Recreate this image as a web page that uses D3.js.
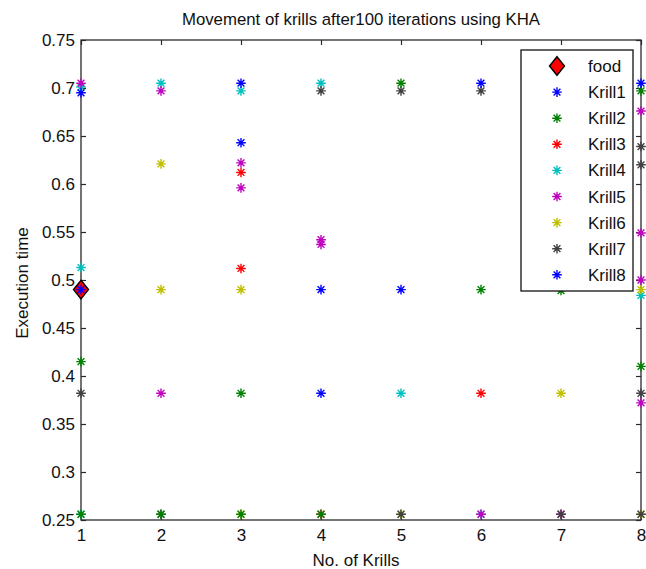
<!DOCTYPE html>
<html>
<head>
<meta charset="utf-8">
<script src="https://cdn.jsdelivr.net/npm/d3@7/dist/d3.min.js"></script>
<style>
  html, body { margin: 0; padding: 0; background: #fff; }
  svg { display: block; font-family: "Liberation Sans", Arial, sans-serif; }
</style>
</head>
<body>
<svg id="chart" width="646" height="569"></svg>
<script>
// Krill positions after 100 iterations: [No. of Krills, Execution time]
const food   = [[1, 0.490]];
const krill1 = [[1, 0.695], [3, 0.705], [4, 0.490], [6, 0.705], [8, 0.705]];
const krill2 = [[1, 0.415], [1, 0.256], [2, 0.256], [3, 0.382], [3, 0.256], [4, 0.256],
                [5, 0.705], [6, 0.490], [7, 0.489], [8, 0.697], [8, 0.410]];
const krill3 = [[3, 0.612], [3, 0.512], [4, 0.256], [6, 0.382]];
const krill4 = [[1, 0.701], [1, 0.513], [1, 0.256], [2, 0.705], [3, 0.697], [4, 0.705],
                [5, 0.382], [6, 0.256], [8, 0.484]];
const krill5 = [[1, 0.705], [2, 0.697], [2, 0.382], [3, 0.622], [3, 0.596], [4, 0.542],
                [4, 0.537], [6, 0.256], [7, 0.256], [8, 0.676], [8, 0.549], [8, 0.500], [8, 0.372]];
const krill6 = [[2, 0.621], [2, 0.490], [3, 0.490], [3, 0.256], [5, 0.256], [7, 0.382],
                [8, 0.490], [8, 0.256]];
const krill7 = [[1, 0.382], [2, 0.256], [4, 0.697], [5, 0.697], [5, 0.256], [6, 0.697],
                [7, 0.256], [8, 0.639], [8, 0.620], [8, 0.382], [8, 0.256]];
const krill8 = [[1, 0.490], [3, 0.643], [4, 0.382], [5, 0.490]];

const seriesNames = ["food", "Krill1", "Krill2", "Krill3", "Krill4", "Krill5", "Krill6", "Krill7", "Krill8"];
const xTicks = [1, 2, 3, 4, 5, 6, 7, 8];
const yTicks = [0.25, 0.3, 0.35, 0.4, 0.45, 0.5, 0.55, 0.6, 0.65, 0.7, 0.75];

const seriesData = {
  food, Krill1: krill1, Krill2: krill2, Krill3: krill3, Krill4: krill4,
  Krill5: krill5, Krill6: krill6, Krill7: krill7, Krill8: krill8
};
const colors = {
  food: "#ff0000", Krill1: "#0000ff", Krill2: "#008000", Krill3: "#ff0000",
  Krill4: "#00bfbf", Krill5: "#bf00bf", Krill6: "#bfbf00", Krill7: "#404040", Krill8: "#0000ff"
};
// stacking order of the markers on the plot
const drawOrder = ["food", "Krill4", "Krill3", "Krill6", "Krill5", "Krill7", "Krill2", "Krill1", "Krill8"];

const svg = d3.select("#chart");
const plot = { left: 81, right: 641, top: 40, bottom: 520 };
const x = d3.scaleLinear().domain([1, 8]).range([plot.left, plot.right]);
const y = d3.scaleLinear().domain([0.25, 0.75]).range([plot.bottom, plot.top]);

const axisColor = "#2a2a2a";
const fontSize = 17;

// asterisk marker path (plus plus cross)
function starPath(a, d) {
  return `M${-a},0L${a},0M0,${-a}L0,${a}M${-d},${-d}L${d},${d}M${-d},${d}L${d},${-d}`;
}
function diamondPath(w, h) {
  return `M0,${-h}L${w},0L0,${h}L${-w},0Z`;
}
function drawMarker(g, name) {
  if (name === "food") {
    g.append("path").attr("d", diamondPath(7.5, 9.3))
      .attr("fill", colors.food).attr("stroke", "#000").attr("stroke-width", 1.4);
  } else {
    g.append("path").attr("d", starPath(4.8, 3.4))
      .attr("fill", "none").attr("stroke", colors[name]).attr("stroke-width", 1.4);
  }
}

// Axes (ticks pointing inward on all four sides)
const fmtY = d => (d === 0.75 || d === 0.25 || d === 0.65 || d === 0.55 || d === 0.45 || d === 0.35) ? d3.format(".2f")(d) : d3.format(".1f")(d);

const gx = svg.append("g").attr("transform", `translate(0,${plot.bottom})`)
  .call(d3.axisBottom(x).tickValues(xTicks).tickFormat(d3.format("d")).tickSizeInner(-5).tickSizeOuter(0).tickPadding(9));
const gy = svg.append("g").attr("transform", `translate(${plot.left},0)`)
  .call(d3.axisLeft(y).tickValues(yTicks).tickFormat(fmtY).tickSizeInner(-5).tickSizeOuter(0).tickPadding(6));
const gt = svg.append("g").attr("transform", `translate(0,${plot.top})`)
  .call(d3.axisTop(x).tickValues(xTicks).tickFormat("").tickSizeInner(-5).tickSizeOuter(0));
const gr = svg.append("g").attr("transform", `translate(${plot.right},0)`)
  .call(d3.axisRight(y).tickValues(yTicks).tickFormat("").tickSizeInner(-5).tickSizeOuter(0));

[gx, gy, gt, gr].forEach(g => {
  g.select(".domain").remove();
  g.selectAll(".tick line").attr("stroke", axisColor).attr("stroke-width", 1.2);
  g.selectAll(".tick text").attr("fill", "#111").attr("font-size", fontSize)
    .attr("font-family", "'Liberation Sans', Arial, sans-serif");
});

svg.append("rect")
  .attr("x", plot.left).attr("y", plot.top)
  .attr("width", plot.right - plot.left).attr("height", plot.bottom - plot.top)
  .attr("fill", "none").attr("stroke", axisColor).attr("stroke-width", 1.3);

// Data markers
const marks = svg.append("g");
drawOrder.forEach(name => {
  seriesData[name].forEach(([xv, yv]) => {
    const g = marks.append("g").attr("transform", `translate(${x(xv)},${y(yv)})`);
    drawMarker(g, name);
  });
});

// Title and axis labels
svg.append("text").attr("x", 361).attr("y", 25).attr("text-anchor", "middle")
  .attr("font-size", 16.8).attr("fill", "#111")
  .text("Movement of krills after100 iterations using KHA");
svg.append("text").attr("x", 356).attr("y", 566).attr("text-anchor", "middle")
  .attr("font-size", fontSize).attr("fill", "#111")
  .text("No. of Krills");
svg.append("text").attr("transform", "translate(28,283) rotate(-90)").attr("text-anchor", "middle")
  .attr("font-size", fontSize).attr("fill", "#111")
  .text("Execution time");

// Legend
const legend = svg.append("g");
legend.append("rect").attr("x", 521).attr("y", 50).attr("width", 112).attr("height", 241)
  .attr("fill", "#fff").attr("stroke", "#111").attr("stroke-width", 1.3);
seriesNames.forEach((name, i) => {
  const cy = 66 + i * 26.1;
  const g = legend.append("g").attr("transform", `translate(557,${cy})`);
  drawMarker(g, name);
  legend.append("text").attr("x", 588).attr("y", cy + 6)
    .attr("font-size", fontSize).attr("fill", "#111").text(name);
});
</script>
</body>
</html>
